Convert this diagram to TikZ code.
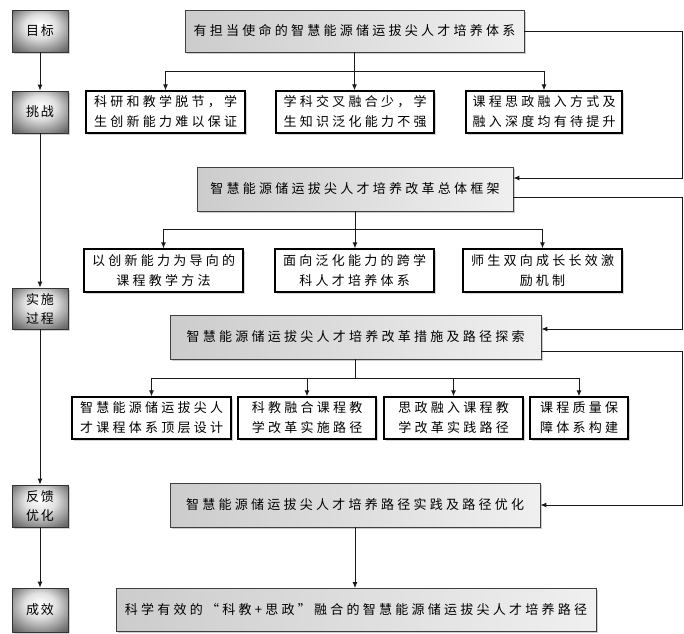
\documentclass[tikz,border=0pt]{standalone}
\usepackage{fontspec}
\newfontfamily\cjk[LetterSpace=25]{Noto Sans CJK SC}
\newfontfamily\cjkl[LetterSpace=12]{Noto Sans CJK SC}
\usetikzlibrary{shadows,arrows.meta}
\pgfdeclareradialshading{lshade}{\pgfpoint{0bp}{8bp}}{color(0bp)=(white); color(14bp)=(black!12); color(32bp)=(black!55); color(50bp)=(black!85)}
\begin{document}
\begin{tikzpicture}[x=1pt,y=-1pt,
  mainbox/.style={draw=black!75, line width=0.8pt, left color=black!20, right color=black!6,
    font=\cjk\fontsize{13}{20}\selectfont, inner sep=0pt, align=center,
    drop shadow={shadow xshift=1.5pt,shadow yshift=-1.5pt,opacity=0.4}},
  subbox/.style={draw=black, line width=1.3pt, fill=white,
    font=\cjk\fontsize{13}{20}\selectfont, inner sep=0pt, align=center,
    drop shadow={shadow xshift=1.5pt,shadow yshift=-1.5pt,opacity=0.35}},
  leftbox/.style={draw=black!80, line width=0.8pt, shading=lshade,
    font=\cjkl\fontsize{13}{19}\selectfont, inner sep=0pt, align=center,
    minimum width=56pt, minimum height=42pt,
    drop shadow={shadow xshift=1.5pt,shadow yshift=-1.5pt,opacity=0.35}},
  conn/.style={line width=1pt, draw=black!90},
  arr/.style={conn, -{Latex[length=6pt,width=5pt]}}
]
\useasboundingbox (0,0) rectangle (684,633);

% left column
\node[leftbox] (L1) at (40,31) {目标};
\node[leftbox] (L2) at (40,112) {挑战};
\node[leftbox, minimum height=41pt] (L3) at (40,308.5) {实施\\过程};
\node[leftbox] (L4) at (40,506) {反馈\\优化};
\node[leftbox, minimum height=44pt] (L5) at (40,610) {成效};
\draw[arr] (L1) -- (L2);
\draw[arr] (L2) -- (L3);
\draw[arr] (L3) -- (L4);
\draw[arr] (L4) -- (L5);

% main boxes
\node[mainbox, minimum width=339pt, minimum height=42pt] (goal) at (354.5,31) {有担当使命的智慧能源储运拔尖人才培养体系};
\node[mainbox, minimum width=316pt, minimum height=44pt] (frame) at (355,189) {智慧能源储运拔尖人才培养改革总体框架};
\node[mainbox, minimum width=371pt, minimum height=44pt] (meas) at (355.5,337) {智慧能源储运拔尖人才培养改革措施及路径探索};
\node[mainbox, minimum width=370pt, minimum height=44pt] (opt) at (355,505) {智慧能源储运拔尖人才培养路径实践及路径优化};
\node[mainbox, minimum width=480pt, minimum height=43pt] (res) at (356,610) {科学有效的“科教+思政”融合的智慧能源储运拔尖人才培养路径};

% challenges
\node[subbox, minimum width=159pt, minimum height=42pt] (c1) at (165.5,112) {科研和教学脱节，学\\生创新能力难以保证};
\node[subbox, minimum width=158pt, minimum height=42pt] (c2) at (355,112) {学科交叉融合少，学\\生知识泛化能力不强};
\node[subbox, minimum width=156pt, minimum height=42pt] (c3) at (544,112) {课程思政融入方式及\\融入深度均有待提升};

% framework row
\node[subbox, minimum width=159pt, minimum height=43pt] (r1) at (163.5,270.5) {以创新能力为导向的\\课程教学方法};
\node[subbox, minimum width=159pt, minimum height=43pt] (r2) at (354.5,270.5) {面向泛化能力的跨学\\科人才培养体系};
\node[subbox, minimum width=159pt, minimum height=43pt] (r3) at (542.5,270.5) {师生双向成长长效激\\励机制};

% measures row
\node[subbox, minimum width=159pt, minimum height=42pt] (m1) at (151.5,418) {智慧能源储运拔尖人\\才课程体系顶层设计};
\node[subbox, minimum width=138pt, minimum height=42pt] (m2) at (307,418) {科教融合课程教\\学改革实施路径};
\node[subbox, minimum width=139pt, minimum height=42pt] (m3) at (453.5,418) {思政融入课程教\\学改革实践路径};
\node[subbox, minimum width=98pt, minimum height=42pt] (m4) at (579,418) {课程质量保\\障体系构建};

% junctions
\coordinate (j1) at (355,71);
\coordinate (j2) at (355,229);
\coordinate (j3) at (356,378);
\coordinate (rx) at (682,0);

\draw[conn] (goal.south) -- (goal.south |- j1);
\draw[arr] (j1) -| (c1.north);
\draw[arr] (j1) -| (c3.north);
\draw[arr] (goal.south) -- (goal.south |- c2.north);

\draw[conn] (frame.south) -- (frame.south |- j2);
\draw[arr] (j2) -| (r1.north);
\draw[arr] (j2) -| (r3.north);
\draw[arr] (frame.south) -- (frame.south |- r2.north);

\draw[conn] (meas.south) -- (meas.south |- j3);
\draw[arr] (j3) -| (m1.north);
\draw[arr] (j3) -| (m2.north);
\draw[arr] (j3) -| (m3.north);
\draw[arr] (j3) -| (m4.north);

\draw[arr] (opt.south) -- (opt.south |- res.north);

% right feedback loops
\coordinate (f1) at ([yshift=11pt]frame.east);
\coordinate (f2) at ([yshift=-8pt]frame.east);
\coordinate (g1) at ([yshift=8pt]meas.east);
\coordinate (g2) at ([yshift=-14pt]meas.east);
\draw[arr] (goal.east) -- (goal.east -| rx) -- (rx |- f1) -- (f1);
\draw[arr] (f2) -- (f2 -| rx) -- (rx |- g1) -- (g1);
\draw[arr] (g2) -- (g2 -| rx) -- (rx |- opt.east) -- (opt.east);
\end{tikzpicture}
\end{document}
